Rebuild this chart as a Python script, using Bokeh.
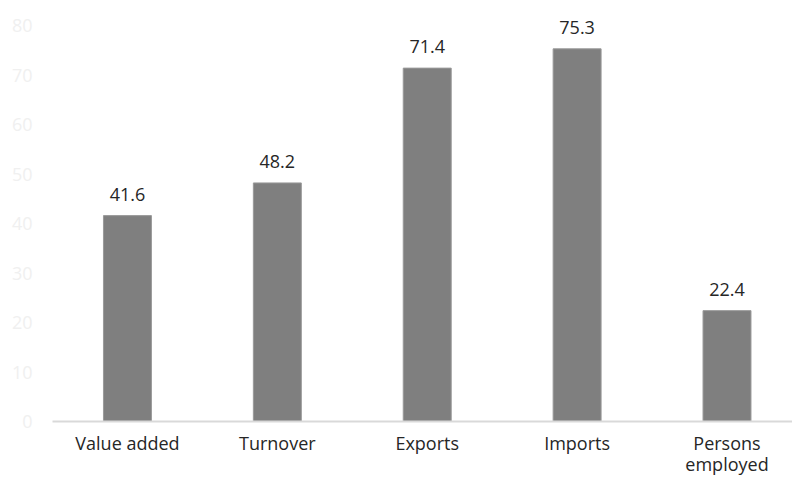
from bokeh.plotting import figure
from bokeh.models import Range1d, FixedTicker, ColumnDataSource, LabelSet
from bokeh.core.properties import value
from bokeh.embed import file_html
from bokeh.resources import INLINE

categories = ["Value added", "Turnover", "Exports", "Imports", "Persons\nemployed"]
values = [41.6, 48.2, 71.4, 75.3, 22.4]
y_ticks = [0, 10, 20, 30, 40, 50, 60, 70, 80]

xpos = [i + 0.5 for i in range(len(categories))]
labels = [f"{v:.1f}" for v in values]
src = ColumnDataSource(dict(x=xpos, top=values, label=labels))

p = figure(width=792, height=479, output_backend="svg", toolbar_location=None,
           x_range=Range1d(0, 4.937), y_range=Range1d(0, 84.05),
           min_border_left=52, min_border_right=0, min_border_top=5, min_border_bottom=10)
p.outline_line_color = None
p.background_fill_color = "white"
p.border_fill_color = "white"

p.vbar(x="x", top="top", width=0.32, bottom=0, source=src,
       fill_color="#7f7f7f", line_color="#9a9a9a", line_width=1)

p.add_layout(LabelSet(x="x", y="top", text="label", source=src,
                      text_align="center", text_baseline="alphabetic", y_offset=15,
                      text_font=value("Open Sans"), text_font_size=value("18px"),
                      text_color="#262626"))

p.xgrid.grid_line_color = None
p.ygrid.grid_line_color = None

p.xaxis.ticker = FixedTicker(ticks=xpos)
p.xaxis.major_label_overrides = {x: c for x, c in zip(xpos, categories)}
p.xaxis.axis_line_color = "#d9d9d9"
p.xaxis.axis_line_width = 2
p.xaxis.major_tick_line_color = None
p.xaxis.minor_tick_line_color = None
p.xaxis.major_label_text_font = "Open Sans"
p.xaxis.major_label_text_font_size = "18px"
p.xaxis.major_label_text_color = "#262626"
p.xaxis.major_label_text_line_height = 0.9
p.xaxis.major_label_standoff = 3

p.yaxis.ticker = FixedTicker(ticks=y_ticks)
p.yaxis.axis_line_color = None
p.yaxis.major_tick_line_color = None
p.yaxis.minor_tick_line_color = None
p.yaxis.major_label_text_font = "Open Sans"
p.yaxis.major_label_text_font_size = "18px"
p.yaxis.major_label_text_color = "#f0f0f0"
p.yaxis.major_label_standoff = 14

open("out.html", "w").write(file_html(p, INLINE))
